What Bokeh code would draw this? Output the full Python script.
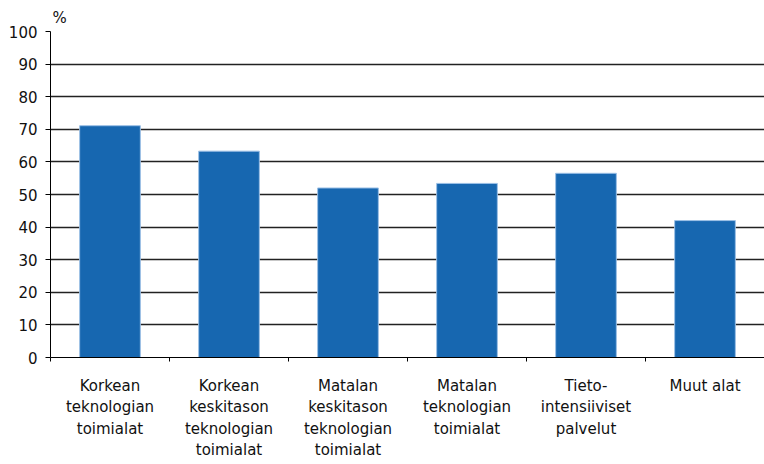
from bokeh.plotting import figure
from bokeh.models import FixedTicker, Range1d, Title, ColumnDataSource
from bokeh.embed import file_html
from bokeh.resources import INLINE

categories = [
    "Korkean\nteknologian\ntoimialat",
    "Korkean\nkeskitason\nteknologian\ntoimialat",
    "Matalan\nkeskitason\nteknologian\ntoimialat",
    "Matalan\nteknologian\ntoimialat",
    "Tieto-\nintensiiviset\npalvelut",
    "Muut alat",
]
values = [71.1, 63.3, 52.0, 53.4, 56.5, 42.0]
y_ticks = [0, 10, 20, 30, 40, 50, 60, 70, 80, 90, 100]
unit_label = "%"

FONT = "DejaVu Sans"
n = len(categories)
xs = [i + 0.5 for i in range(n)]

p = figure(width=764, height=464, output_backend="svg", toolbar_location=None,
           x_range=Range1d(0, n), y_range=Range1d(0, 100),
           min_border_left=50, min_border_right=0, min_border_top=31,
           min_border_bottom=107)
p.outline_line_color = None
p.background_fill_color = "white"
p.border_fill_color = "white"

p.add_layout(Title(text=unit_label, align="left", offset=2, standoff=10,
                   text_font=FONT, text_font_size="15px", text_font_style="normal",
                   text_color="#111111"), "above")

src = ColumnDataSource(dict(x=xs, top=values))
p.vbar(x="x", top="top", width=0.51, bottom=0, source=src,
       fill_color="#1767b0", line_color="#9cc0e6", line_width=1)

# x axis
xa = p.xaxis[0]
xa.ticker = FixedTicker(ticks=xs, minor_ticks=[float(i) for i in range(n + 1)])
xa.major_label_overrides = {x: c for x, c in zip(xs, categories)}
xa.major_tick_line_color = None
xa.minor_tick_line_color = "#000000"
xa.minor_tick_in = 0
xa.minor_tick_out = 4
xa.axis_line_color = "#000000"
xa.major_label_standoff = 13
xa.major_label_text_font = FONT
xa.major_label_text_font_size = "15px"
xa.major_label_text_color = "#111111"
p.xgrid.grid_line_color = None

# y axis
ya = p.yaxis[0]
ya.ticker = FixedTicker(ticks=y_ticks, minor_ticks=[])
ya.axis_line_color = "#000000"
ya.major_tick_line_color = "#000000"
ya.major_tick_in = 0
ya.major_tick_out = 5
ya.major_label_standoff = 8
ya.major_label_text_font = FONT
ya.major_label_text_font_size = "15px"
ya.major_label_text_color = "#111111"
p.ygrid.grid_line_color = "#222222"
p.ygrid.grid_line_width = 1.3
p.ygrid.ticker = FixedTicker(ticks=y_ticks)

open("out.html", "w").write(file_html(p, INLINE))
